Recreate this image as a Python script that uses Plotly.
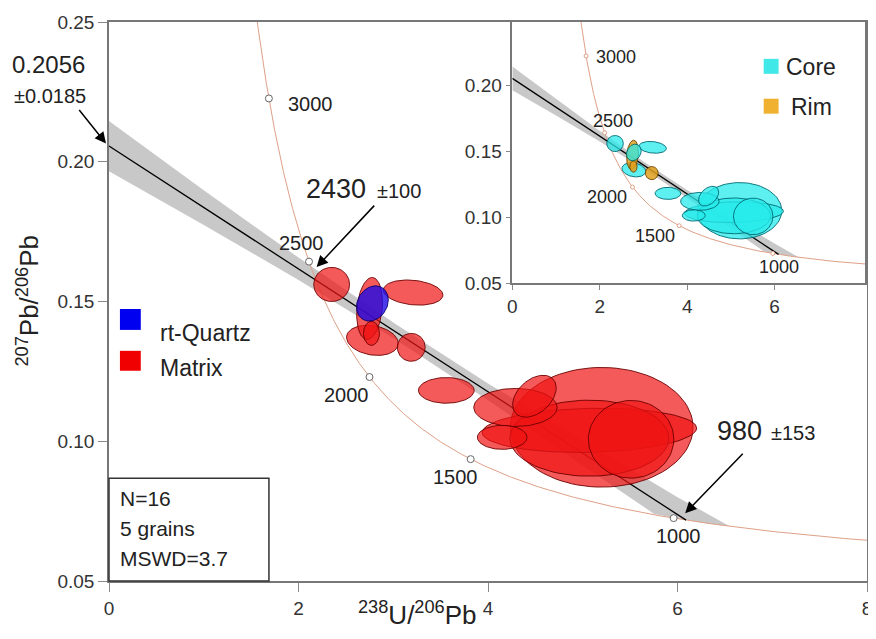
import numpy as np
import plotly.graph_objects as go

# ---------------- data ----------------
# error ellipses: centre, half-width (x units), half-height (y units), correlation
ell_x   = [5.20, 5.07, 5.07, 5.51, 4.29, 4.49, 4.15, 3.56, 2.35, 3.21, 2.78, 2.75, 2.77, 3.19, 2.78]
ell_y   = [0.1050, 0.1039, 0.1011, 0.1007, 0.1121, 0.1161, 0.1014, 0.1182, 0.1561, 0.1532, 0.1361, 0.1475, 0.1386, 0.1336, 0.1493]
ell_sx  = [0.964, 1.132, 0.839, 0.451, 0.440, 0.230, 0.262, 0.294, 0.189, 0.314, 0.273, 0.136, 0.084, 0.147, 0.168]
ell_sy  = [0.0214, 0.0079, 0.0136, 0.0139, 0.0068, 0.0075, 0.0043, 0.0046, 0.0061, 0.0045, 0.0054, 0.0111, 0.0043, 0.0050, 0.0063]
ell_rho = [0.0, 0.1, 0.0, 0.0, 0.0, 0.4, 0.0, 0.0, 0.0, -0.2, -0.2, 0.2, 0.0, 0.0, 0.2]
ell_group = ["Matrix"] * 14 + ["rt-Quartz"]
ell_zone  = ["Core"] * 11 + ["Rim", "Rim", "Rim", "Core"]

concordia_ages = [1000, 1500, 2000, 2500, 3000]     # Ma, labelled markers
y_intercept, y_intercept_err = 0.2056, 0.0185
upper_age, upper_err = 2430, 100
lower_age, lower_err = 980, 153
n_analyses, n_grains, mswd = 16, 5, 3.7

band_upper_x = [0, 1, 2, 3, 4, 5, 6, 6.55]
band_upper_y = [0.2146, 0.1898, 0.1657, 0.1425, 0.1207, 0.1003, 0.0800, 0.0696]
band_lower_x = [0, 1, 2, 3, 4, 5, 5.75, 6.0, 6.3, 6.55]
band_lower_y = [0.1966, 0.1774, 0.1577, 0.1369, 0.1147, 0.0913, 0.0741, 0.0723, 0.0707, 0.0696]

# ---------------- Tera-Wasserburg concordia ----------------
L238, L235, U85 = 1.55125e-4, 9.8485e-4, 137.88   # per Ma


def tw(t):
    t = np.asarray(t, dtype=float)
    e8 = np.exp(L238 * t) - 1
    e5 = np.exp(L235 * t) - 1
    return 1 / e8, e5 / e8 / U85


curve_t = np.linspace(700, 3400, 400)
cx, cy = tw(curve_t)
mx, my = tw(concordia_ages)
lx, ly = tw(lower_age)
line_x = [0, float(lx)]
line_y = [y_intercept, float(ly)]

# ---------------- figure ----------------
OFF = 8                      # page body margin of the browser
W, H = 868, 631
L, R, T, B = 101, 4, 12, 58
PW, PH = W - L - R, H - T - B


def px(xp):                  # page pixel -> paper
    return (xp - OFF - L) / PW


def py(yp):
    return (H - B - (yp - OFF)) / PH


FONT = "Liberation Sans, Arial, sans-serif"
fig = go.Figure()

RED_FILL, RED_LINE = "rgba(240,20,20,0.70)", "rgba(110,0,0,0.9)"
BLUE_FILL, BLUE_LINE = "rgba(30,10,230,0.80)", "rgba(10,0,110,0.9)"
CYAN_FILL, CYAN_LINE = "rgba(40,235,235,0.75)", "rgba(0,105,115,0.9)"
ORNG_FILL, ORNG_LINE = "rgba(225,160,30,0.85)", "rgba(110,70,0,0.9)"
CONC = "rgb(222,160,135)"
BAND = "#C8C8C8"

th = np.linspace(0, 2 * np.pi, 90)


def ellipse(i):
    ex = ell_x[i] + ell_sx[i] * np.cos(th)
    r = ell_rho[i]
    ey = ell_y[i] + ell_sy[i] * (r * np.cos(th) + np.sqrt(1 - r * r) * np.sin(th))
    return ex, ey


for ax_, ay_, inset in (("x", "y", False), ("x2", "y2", True)):
    fig.add_trace(go.Scatter(
        x=band_upper_x + band_lower_x[::-1], y=band_upper_y + band_lower_y[::-1],
        mode="lines", fill="toself", fillcolor=BAND, line=dict(width=0),
        hoverinfo="skip", showlegend=False, xaxis=ax_, yaxis=ay_))
    fig.add_trace(go.Scatter(x=cx, y=cy, mode="lines", line=dict(color=CONC, width=1.0),
                             hoverinfo="skip", showlegend=False, xaxis=ax_, yaxis=ay_))
    fig.add_trace(go.Scatter(x=line_x, y=line_y, mode="lines", line=dict(color="black", width=1.3),
                             hoverinfo="skip", showlegend=False, xaxis=ax_, yaxis=ay_))
    for i in range(len(ell_x)):
        ex, ey = ellipse(i)
        if inset:
            fc, lc = (ORNG_FILL, ORNG_LINE) if ell_zone[i] == "Rim" else (CYAN_FILL, CYAN_LINE)
        else:
            fc, lc = (BLUE_FILL, BLUE_LINE) if ell_group[i] == "rt-Quartz" else (RED_FILL, RED_LINE)
        fig.add_trace(go.Scatter(x=ex, y=ey, mode="lines", fill="toself", fillcolor=fc,
                                 line=dict(color=lc, width=1), hoverinfo="skip",
                                 showlegend=False, xaxis=ax_, yaxis=ay_))
    fig.add_trace(go.Scatter(
        x=mx, y=my, mode="markers",
        marker=dict(symbol="circle", size=4 if inset else 7, color="white",
                    line=dict(color=CONC if inset else "#666", width=1)),
        hoverinfo="skip", showlegend=False, xaxis=ax_, yaxis=ay_))

ann = []
main_off = {1000: (5, 18), 1500: (-15, 18), 2000: (-23, 18), 2500: (-8, -19), 3000: (42, 6)}
ins_off = {1000: (6, 14), 1500: (-24, 10), 2000: (-25, 10), 2500: (8, -12), 3000: (30, 1)}
for a, x_, y_ in zip(concordia_ages, mx, my):
    dx, dy = main_off[a]
    ann.append(dict(x=float(x_), y=float(y_), xref="x", yref="y", text=str(a), showarrow=False,
                    xshift=dx, yshift=-dy, font=dict(size=20, color="#222", family=FONT)))
    dx, dy = ins_off[a]
    ann.append(dict(x=float(x_), y=float(y_), xref="x2", yref="y2", text=str(a), showarrow=False,
                    xshift=dx, yshift=-dy, font=dict(size=18, color="#222", family=FONT)))


def txt(xp, yp, s, size, anchor="center", angle=0):
    ann.append(dict(x=px(xp), y=py(yp), xref="paper", yref="paper", text=s, showarrow=False,
                    xanchor=anchor, yanchor="middle", textangle=angle,
                    font=dict(size=size, color="#222", family=FONT)))


txt(48, 63, f"{y_intercept:.4f}", 24)
txt(50, 94, f"±{y_intercept_err:.4f}", 20)
txt(338, 188, f"{upper_age}", 27)
txt(401, 190, f"±{upper_err}", 20)
txt(744, 430, f"{lower_age}", 27)
txt(798, 432, f"±{lower_err}", 20)


def arrow(hx, hy, tx, ty):
    ann.append(dict(x=px(hx), y=py(hy), xref="paper", yref="paper", text="", showarrow=True,
                    ax=tx - hx, ay=ty - hy, arrowhead=2, arrowsize=1.5, arrowwidth=1.5,
                    arrowcolor="black"))


arrow(106, 142, 78, 107)
arrow(318, 266, 377, 203)
arrow(689, 513, 748, 452)

for i, s in enumerate([f"N={n_analyses}", f"{n_grains} grains", f"MSWD={mswd}"]):
    txt(118, 498 + 30 * i, s, 21, anchor="left")

txt(158, 332, "rt-Quartz", 23, anchor="left")
txt(158, 367, "Matrix", 23, anchor="left")
txt(788, 65, "Core", 23, anchor="left")
txt(793, 105, "Rim", 23, anchor="left")

txt(27, 300, "<sup>207</sup>Pb/<sup>206</sup>Pb", 26, angle=-90)
txt(420, 614, "<sup>238</sup>U/<sup>206</sup>Pb", 26)

shapes = [
    dict(type="rect", xref="paper", yref="paper", x0=px(109), x1=px(270), y0=py(581), y1=py(478),
         line=dict(color="#333", width=1.5), fillcolor="rgba(0,0,0,0)"),
    dict(type="rect", xref="paper", yref="paper", x0=px(120), x1=px(141), y0=py(329), y1=py(308),
         line=dict(width=0), fillcolor="#0000F0"),
    dict(type="rect", xref="paper", yref="paper", x0=px(120), x1=px(141), y0=py(370), y1=py(350),
         line=dict(width=0), fillcolor="#F00000"),
    dict(type="rect", xref="paper", yref="paper", x0=px(768), x1=px(783), y0=py(72), y1=py(57),
         line=dict(width=0), fillcolor="#40E8E8"),
    dict(type="rect", xref="paper", yref="paper", x0=px(768), x1=px(783), y0=py(112), y1=py(97),
         line=dict(width=0), fillcolor="#F0B030"),
]

axis_common = dict(showline=True, mirror=True, linecolor="#777", linewidth=1.5, showgrid=False,
                   zeroline=False, ticks="outside", tickcolor="#888",
                   tickfont=dict(size=19, color="#333", family=FONT))

fig.update_layout(
    width=W, height=H, margin=dict(l=L, r=R, t=T, b=B),
    paper_bgcolor="white", plot_bgcolor="white", showlegend=False,
    font=dict(family=FONT),
    xaxis=dict(range=[0, 8], tickvals=[0, 2, 4, 6, 8], ticklen=9, domain=[0, 1], **axis_common),
    yaxis=dict(range=[0.05, 0.25], tickvals=[0.05, 0.10, 0.15, 0.20, 0.25], tickformat=".2f",
               ticklen=9, domain=[0, 1], **axis_common),
    xaxis2=dict(range=[0, (870 - 515) / 44], tickvals=[0, 2, 4, 6], ticklen=5,
                domain=[px(515), px(870)], anchor="y2", **axis_common),
    yaxis2=dict(range=[0.05, 0.05 + (282 - 20) / 1320], tickvals=[0.05, 0.10, 0.15, 0.20],
                tickformat=".2f", ticklen=5, domain=[py(282), 1], anchor="x2", **axis_common),
    annotations=ann, shapes=shapes,
)

fig.write_html("out.html")
